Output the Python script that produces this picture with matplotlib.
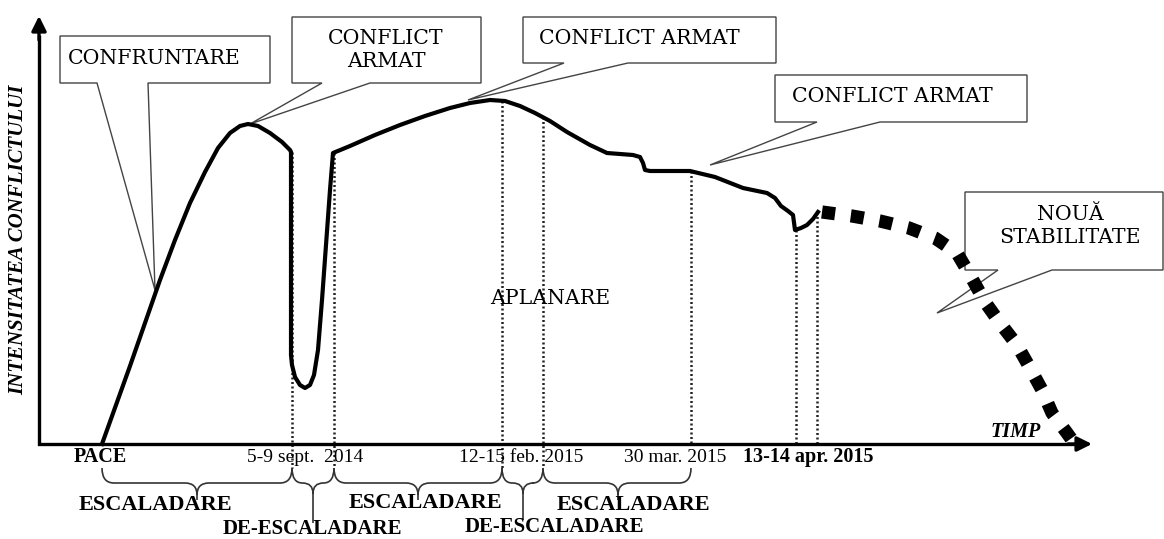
import matplotlib
matplotlib.use('Agg')
import matplotlib.pyplot as plt
from matplotlib.path import Path
from matplotlib.patches import PathPatch, Polygon

plt.rcParams['font.family'] = ['Liberation Serif', 'DejaVu Serif']

W, H = 1164, 539

# conflict intensity curve (x right, y down, pixels)
curve_x = [102, 130, 160, 175, 190, 205, 218, 230, 240, 248, 258, 270, 282, 290,
           291, 291, 291, 292, 295, 300, 305, 310, 314, 318, 322, 326, 330, 333,
           350, 375, 400, 425, 450, 470, 490, 505, 520, 535, 550, 567, 590, 607,
           620, 633, 640, 643, 645, 650, 690, 715, 743, 767, 775, 781, 788, 793,
           795, 801, 807, 813, 818]
curve_y = [444, 366, 280, 240, 203, 172, 148, 133, 126, 124, 126, 133, 142, 150,
           152, 250, 355, 365, 377, 385, 388, 385, 375, 350, 300, 245, 190, 153,
           146, 135, 125, 116, 108, 103, 100, 101, 106, 113, 121, 132, 145, 153,
           154, 155, 157, 163, 170, 171, 171, 177, 188, 193, 198, 206, 211, 215,
           230, 228, 225, 219, 212]

# forecast part (thick dotted)
forecast_x = [822, 852, 880, 909, 935, 957, 970, 985, 1000, 1017, 1030, 1042, 1052, 1067, 1072]
forecast_y = [212, 216, 221, 228, 238, 253, 275, 302, 323, 345, 368, 390, 413, 433, 440]

# event markers (dotted verticals)
event_x = [292, 334, 502, 543, 691, 796, 817]
event_top = [152, 153, 101, 117, 171, 230, 212]
event_bottom = [468, 468, 468, 468, 444, 444, 444]

date_labels = ['PACE', '5-9 sept.  2014', '12-15 feb. 2015', '30 mar. 2015', '13-14 apr. 2015']
date_x = [100, 305, 521, 675, 808]
date_bold = [True, False, False, False, True]

phase_names = ['ESCALADARE', 'DE-ESCALADARE', 'ESCALADARE', 'DE-ESCALADARE', 'ESCALADARE']
phase_start = [102, 292, 334, 502, 543]
phase_end = [292, 334, 502, 543, 691]
phase_tip_x = [197, 313, 418, 523, 618]
phase_tip_y = [500, 523, 500, 520, 500]
phase_label_x = [155, 312, 425, 554, 633]
phase_label_y = [505, 529, 503, 527, 505]

callout_text = ['CONFRUNTARE', 'CONFLICT\nARMAT', 'CONFLICT ARMAT', 'CONFLICT ARMAT', 'NOUĂ\nSTABILITATE']
callout_box = [(60, 36, 270, 83), (292, 17, 481, 83), (523, 17, 776, 63),
               (775, 75, 1027, 122), (965, 192, 1163, 270)]
callout_base = [(97, 148), (322, 370), (564, 628), (817, 880), (998, 1052)]
callout_tip = [(155, 290), (250, 124), (468, 100), (710, 165), (937, 313)]
callout_text_xy = [(154, 58), (386, 50), (639, 38), (892, 97), (1070, 226)]


def brace(ax, x0, x1, xm, yt, ys=468, yh=483):
    r = min(12, (x1 - x0) / 4)
    verts = [(x0, ys), (x0, yh), (x0 + r, yh), (xm - r, yh), (xm, yh), (xm, yh + r), (xm, yt),
             (xm, yh + r), (xm, yh), (xm + r, yh), (x1 - r, yh), (x1, yh), (x1, ys)]
    codes = [Path.MOVETO, Path.CURVE3, Path.CURVE3, Path.LINETO, Path.CURVE3, Path.CURVE3, Path.LINETO,
             Path.MOVETO, Path.CURVE3, Path.CURVE3, Path.LINETO, Path.CURVE3, Path.CURVE3]
    ax.add_patch(PathPatch(Path(verts, codes), fill=False, lw=1.2, edgecolor='#333333', zorder=2))


fig = plt.figure(figsize=(W / 100, H / 100), dpi=100)
ax = fig.add_axes([0, 0, 1, 1])
ax.set_xlim(0, W)
ax.set_ylim(H, 0)
ax.axis('off')

# axes with arrows
ax.plot([39, 39, 1075], [35, 444, 444], color='black', lw=2.4,
        solid_joinstyle='miter', solid_capstyle='butt', zorder=3)
ax.annotate('', xy=(39, 16), xytext=(39, 40),
            arrowprops=dict(arrowstyle='-|>', color='black', lw=2.4, mutation_scale=22,
                            shrinkA=0, shrinkB=0), zorder=3)
ax.annotate('', xy=(1092, 444), xytext=(1068, 444),
            arrowprops=dict(arrowstyle='-|>', color='black', lw=2.4, mutation_scale=22,
                            shrinkA=0, shrinkB=0), zorder=3)

# event verticals
for x, t, b in zip(event_x, event_top, event_bottom):
    ax.plot([x, x], [t, b], color='#222222', lw=1.8, linestyle=(0, (0.8, 1.0)), zorder=2)

# callouts
for (l, t, r, b), (b1, b2), tip, txt, (tx, ty) in zip(callout_box, callout_base, callout_tip,
                                                     callout_text, callout_text_xy):
    pts = [(l, t), (r, t), (r, b), (b2, b), tip, (b1, b), (l, b)]
    ax.add_patch(Polygon(pts, closed=True, facecolor='white', edgecolor='#444444', lw=1.0, zorder=4))
    ax.text(tx, ty, txt, ha='center', va='center', fontsize=14.8, family='DejaVu Serif',
            linespacing=1.22, zorder=5)

# main curve
ax.plot(curve_x, curve_y, color='black', lw=3.0, solid_joinstyle='round', zorder=6)
ax.plot(forecast_x, forecast_y, color='black', lw=9.5, dashes=(1.0, 1.2),
        dash_capstyle='butt', zorder=6)

# labels
ax.text(18, 240, 'INTENSITATEA CONFLICTULUI', rotation=90, ha='center', va='center',
        fontsize=15, fontweight='bold', fontstyle='italic')
ax.text(1016, 432, 'TIMP', ha='center', va='center', fontsize=14.5,
        fontweight='bold', fontstyle='italic')
ax.text(550, 299, 'APLANARE', ha='center', va='center', fontsize=14.8, family='DejaVu Serif')

for lab, x, bold in zip(date_labels, date_x, date_bold):
    ax.text(x, 457, lab, ha='center', va='center', fontsize=14.5 if bold else 14,
            fontweight='bold' if bold else 'normal')

for name, x0, x1, xm, yt, lx, ly in zip(phase_names, phase_start, phase_end, phase_tip_x,
                                        phase_tip_y, phase_label_x, phase_label_y):
    brace(ax, x0, x1, xm, yt)
    ax.text(lx, ly, name, ha='center', va='center', fontweight='bold',
            fontsize=16 if name == 'ESCALADARE' else 15)

fig.savefig('out.png', dpi=100)
